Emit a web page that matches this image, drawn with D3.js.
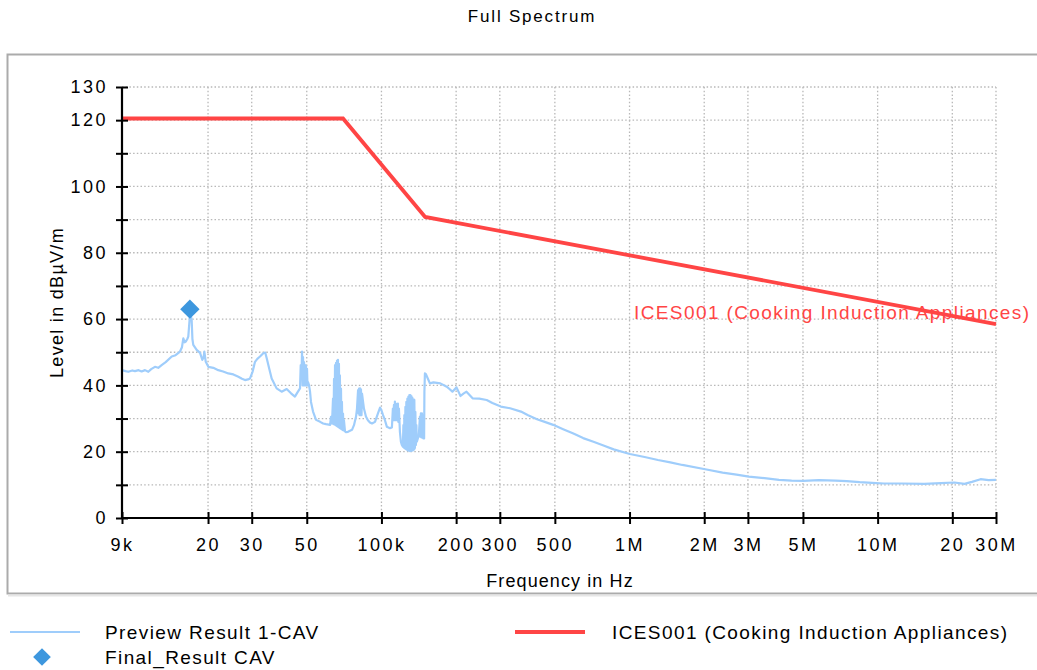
<!DOCTYPE html>
<html><head><meta charset="utf-8">
<script src="https://cdn.jsdelivr.net/npm/d3@7"></script>
<style>
body{margin:0;background:#fff}
svg{display:block}
text{font-family:"Liberation Sans",Arial,sans-serif;fill:#000}
</style>
</head><body>
<svg id="chart" width="1037" height="670"></svg>
<script>
// ---------- data ----------
const chartTitle = "Full Spectrum";
const xAxisTitle = "Frequency in Hz";
const yAxisTitle = "Level in dBµV/m";
const xTickValues = [9, 20, 30, 50, 100, 200, 300, 500, 1000, 2000, 3000, 5000, 10000, 20000, 30000]; // kHz
const xTickLabels = ["9k", "20", "30", "50", "100k", "200", "300", "500", "1M", "2M", "3M", "5M", "10M", "20", "30M"];
const yGridValues = [0, 10, 20, 30, 40, 50, 60, 70, 80, 90, 100, 110, 120, 130];
const yLabelValues = [0, 20, 40, 60, 80, 100, 120, 130];
const seriesNames = ["Preview Result 1-CAV", "Final_Result CAV", "ICES001 (Cooking Induction Appliances)"];

// limit line: [kHz, dBµV/m]
const limitLine = [[9, 120.5], [70, 120.5], [150, 90.8], [30000, 58.5]];

// final result marker: [kHz, dBµV/m]
const finalResult = [[16.9, 63.0]];

// preview trace: [kHz, dBµV/m]
const previewResult = [
  [9.0, 44.6], [9.3, 44.3], [9.54, 44.1], [9.9, 44.5], [10.15, 44.3], [10.5, 44.6], [10.8, 44.2], [11.14, 44.6],
  [11.49, 44.1], [11.8, 44.9], [12.22, 45.6], [12.6, 45.3], [13.0, 46.1], [13.5, 47.0], [14.28, 48.7], [14.8, 49.1],
  [15.42, 50.2], [15.7, 51.5], [15.9, 54.2], [16.1, 53.0], [16.26, 53.2], [16.5, 54.0], [16.65, 54.7], [16.8, 58.5],
  [16.9, 61.0], [17.05, 61.0], [17.18, 59.7], [17.3, 54.0], [17.44, 52.2], [18.0, 50.7], [18.57, 49.8], [18.97, 47.7],
  [19.2, 48.5], [19.33, 50.2], [19.58, 47.1], [20.05, 45.6], [21.0, 45.3], [22.0, 44.6], [23.0, 44.2], [24.15, 43.6],
  [25.3, 43.3], [26.5, 42.6], [27.4, 42.0], [28.19, 41.6], [29.0, 41.8], [29.53, 42.1], [30.2, 44.0], [30.93, 47.1],
  [31.6, 48.0], [32.4, 48.7], [33.4, 49.7], [34.0, 49.9], [34.48, 48.2], [35.3, 45.0], [36.1, 42.1], [37.8, 39.1],
  [39.6, 38.1], [41.5, 38.9], [43.2, 37.6], [44.8, 36.6], [45.8, 37.8], [46.97, 39.1], [47.27, 46.1], [47.6, 42.0],
  [47.85, 50.2], [48.1, 40.0], [48.3, 48.5], [48.5, 40.0], [48.75, 47.0], [49.0, 40.0], [49.2, 46.1], [49.4, 40.0],
  [49.66, 46.0], [49.9, 40.0], [50.12, 45.0], [50.35, 40.0], [50.59, 41.0], [51.06, 40.1], [51.54, 38.1], [52.0, 35.0],
  [53.0, 32.1], [54.5, 29.6], [56.6, 29.0], [58.2, 28.5], [59.8, 28.3], [62.1, 28.1], [62.6, 30.5],
  [63.2, 28.5], [63.8, 36.0], [64.1, 28.3], [64.4, 42.0], [64.7, 28.2], [65.0, 46.1], [65.3, 28.0], [65.6, 46.8],
  [65.9, 27.8], [66.2, 47.5], [66.5, 27.6], [66.8, 47.7], [67.1, 27.4], [67.4, 46.5], [67.7, 27.2], [68.0, 43.0],
  [68.3, 27.0], [68.7, 39.0], [69.0, 26.8], [69.3, 35.0], [69.6, 26.6], [70.0, 31.5], [70.3, 26.4], [70.6, 29.5],
  [71.3, 26.1], [71.9, 25.9], [73.3, 26.0], [74.7, 26.3], [76.1, 26.6], [77.5, 28.0], [79.0, 30.6], [79.7, 33.0],
  [80.5, 38.6], [80.9, 31.5], [81.2, 39.0], [81.6, 31.0], [82.0, 39.1], [82.4, 31.0], [82.7, 38.8], [83.1, 31.0],
  [83.5, 37.5], [84.3, 35.1], [85.0, 33.0], [86.6, 30.6], [88.2, 29.5], [89.9, 28.8], [91.6, 28.5], [94.2, 29.0],
  [96.9, 31.6], [98.7, 33.3], [100.0, 32.5], [101.4, 31.1], [103.3, 29.5], [105.2, 27.5], [108.2, 27.1], [110.2, 27.3],
  [111.2, 33.0], [111.7, 29.5], [112.3, 34.1], [112.8, 29.5], [113.3, 35.1], [113.8, 29.5], [114.4, 34.5], [114.9, 29.5],
  [115.4, 34.1], [115.9, 29.5], [116.5, 34.5], [117.0, 29.0], [117.6, 33.0], [118.7, 26.0], [119.8, 23.0], [120.9, 22.0],
  [122.0, 21.5], [122.6, 28.0], [123.2, 21.2], [123.7, 31.0], [124.3, 21.0], [124.9, 33.5], [125.5, 20.8], [126.0, 35.0],
  [126.6, 20.6], [127.2, 36.0], [127.8, 20.4], [128.4, 36.6], [129.0, 20.3], [129.6, 37.1], [130.2, 20.2], [130.8, 37.1],
  [131.4, 20.2], [132.0, 36.8], [132.6, 20.3], [133.2, 36.3], [133.9, 20.4], [134.5, 35.8], [135.1, 20.6], [135.7, 35.6],
  [136.4, 21.0], [137.0, 32.0], [137.7, 22.0], [138.3, 28.0], [138.9, 23.0], [140.2, 24.0], [141.5, 25.0],
  [142.9, 30.6], [143.5, 24.5], [144.2, 31.6], [144.9, 24.3], [145.6, 31.6], [146.2, 24.2], [146.9, 31.0], [147.6, 24.0],
  [148.3, 30.0], [148.6, 24.0], [149.0, 38.0], [149.7, 43.6], [151.1, 43.4], [153.9, 42.0], [156.8, 40.6], [162.0, 40.9],
  [172.7, 40.6], [183.3, 39.6], [188.0, 38.9], [193.2, 38.1], [200.7, 39.4], [208.3, 36.8], [214.0, 37.5], [220.2, 38.1],
  [233.0, 36.1], [248.0, 36.0], [265.6, 35.6], [280.0, 34.7], [302.8, 33.6], [330.0, 33.1], [365.0, 32.1], [390.0, 31.0],
  [423.6, 29.8], [455.0, 29.0], [492.3, 28.1], [540.0, 26.8], [593.9, 25.5], [650.0, 24.1], [715.5, 23.0], [790.0, 21.8],
  [863.0, 20.7], [1003, 19.3], [1150, 18.4], [1302, 17.5], [1460, 16.8], [1632, 16.0], [2019, 14.7], [2372, 13.7],
  [2700, 13.1], [3025, 12.5], [3500, 12.0], [4002, 11.5], [4500, 11.3], [5011, 11.2], [5800, 11.4], [6763, 11.3],
  [7500, 11.1], [8465, 10.8], [9500, 10.6], [10598, 10.4], [12500, 10.4], [15408, 10.3], [18000, 10.5], [20385, 10.7],
  [22392, 10.3], [24000, 10.9], [25992, 11.7], [28000, 11.4], [30000, 11.5]
];

// ---------- layout ----------
const plot = {left: 122, right: 996, top: 87, bottom: 518};
const colors = {preview: "#9fcdfb", final: "#3d97de", limit: "#ff4545", grid: "#b8b8b8"};
const FONT = "Liberation Sans, Arial, sans-serif";

const svg = d3.select("#chart");
const x = d3.scaleLog().domain([9, 30000]).range([plot.left, plot.right]);
const y = d3.scaleLinear().domain([0, 130]).range([plot.bottom, plot.top]);

// panel frame
svg.append("rect").attr("x", 7.5).attr("y", 54.5).attr("width", 1040).attr("height", 539)
  .attr("fill", "#fff").attr("stroke", "#ababab").attr("stroke-width", 2);
svg.append("line").attr("x1", 8).attr("x2", 1037).attr("y1", 595.5).attr("y2", 595.5)
  .attr("stroke", "#e6e6e6").attr("stroke-width", 2);

// title
svg.append("text").attr("x", 532).attr("y", 22).attr("text-anchor", "middle")
  .attr("font-size", 17).attr("letter-spacing", 1.8).text(chartTitle);

// grid
const grid = svg.append("g");
grid.selectAll("line.v").data(xTickValues.slice(1)).join("line")
  .attr("x1", d => x(d)).attr("x2", d => x(d)).attr("y1", plot.top).attr("y2", plot.bottom)
  .attr("stroke", colors.grid).attr("stroke-width", 1.3).attr("stroke-dasharray", "1.5,2.2");
grid.selectAll("line.h").data(yGridValues.slice(1)).join("line")
  .attr("x1", plot.left).attr("x2", plot.right).attr("y1", d => y(d)).attr("y2", d => y(d))
  .attr("stroke", colors.grid).attr("stroke-width", 1.3).attr("stroke-dasharray", "1.5,2.2");

// preview trace
const line = d3.line().x(d => x(d[0])).y(d => y(d[1]));
svg.append("path").datum(previewResult).attr("d", line)
  .attr("fill", "none").attr("stroke", colors.preview).attr("stroke-width", 2.2).attr("stroke-linejoin", "round");

// limit line
svg.append("path").datum(limitLine).attr("d", line)
  .attr("fill", "none").attr("stroke", colors.limit).attr("stroke-width", 3.8);

// axes
const xAxis = d3.axisBottom(x).tickValues(xTickValues)
  .tickFormat((d, i) => xTickLabels[i]).tickSize(6).tickPadding(14);
const gx = svg.append("g").attr("transform", `translate(0,${plot.bottom})`).call(xAxis);
gx.select(".domain").attr("stroke", "#000").attr("stroke-width", 2.2).attr("d", `M${plot.left},0H${plot.right}`);
gx.selectAll(".tick line").attr("y1", -6).attr("y2", 6).attr("stroke", "#000").attr("stroke-width", 2);
gx.selectAll(".tick text").attr("font-size", 18).attr("font-family", FONT).attr("letter-spacing", 2.5);

const yAxis = d3.axisLeft(y).tickValues(yGridValues)
  .tickFormat(d => yLabelValues.includes(d) ? String(d) : "").tickSize(6).tickPadding(8);
const gy = svg.append("g").attr("transform", `translate(${plot.left},0)`).call(yAxis);
gy.select(".domain").attr("stroke", "#000").attr("stroke-width", 2.2).attr("d", `M0,${plot.bottom}V${plot.top}`);
gy.selectAll(".tick line").attr("x1", -6).attr("x2", 6).attr("stroke", "#000").attr("stroke-width", 2);
gy.selectAll(".tick text").attr("font-size", 18).attr("font-family", FONT).attr("letter-spacing", 2.5);

// axis titles
svg.append("text").attr("x", (plot.left + plot.right) / 2 + 1).attr("y", 587).attr("text-anchor", "middle")
  .attr("font-size", 18).attr("letter-spacing", 1.1).text(xAxisTitle);
svg.append("text").attr("transform", `translate(63,${(plot.top + plot.bottom) / 2}) rotate(-90)`)
  .attr("text-anchor", "middle").attr("font-size", 18).attr("letter-spacing", 1.3).text(yAxisTitle);

// final result marker
const diamond = d3.symbol().type(d3.symbolDiamond2).size(240);
svg.selectAll("path.final").data(finalResult).join("path")
  .attr("transform", d => `translate(${x(d[0])},${y(d[1])})`).attr("d", diamond).attr("fill", colors.final);

// limit annotation
const lastLim = limitLine[limitLine.length - 1];
svg.append("text").attr("x", 634).attr("y", y(lastLim[1]) - 5)
  .attr("font-size", 19).attr("letter-spacing", 1.4).style("fill", colors.limit).text(seriesNames[2]);

// legend
const lg = svg.append("g");
lg.append("line").attr("x1", 10).attr("x2", 80).attr("y1", 632).attr("y2", 632)
  .attr("stroke", colors.preview).attr("stroke-width", 2);
lg.append("text").attr("x", 105).attr("y", 639).attr("font-size", 19).attr("letter-spacing", 1.4).text(seriesNames[0]);
lg.append("path").attr("transform", "translate(42,657)").attr("d", d3.symbol().type(d3.symbolDiamond2).size(200))
  .attr("fill", colors.final);
lg.append("text").attr("x", 105).attr("y", 664).attr("font-size", 19).attr("letter-spacing", 1.4).text(seriesNames[1]);
lg.append("line").attr("x1", 515).attr("x2", 585).attr("y1", 632).attr("y2", 632)
  .attr("stroke", colors.limit).attr("stroke-width", 4);
lg.append("text").attr("x", 612).attr("y", 639).attr("font-size", 19).attr("letter-spacing", 1.4).text(seriesNames[2]);
</script>
</body></html>
